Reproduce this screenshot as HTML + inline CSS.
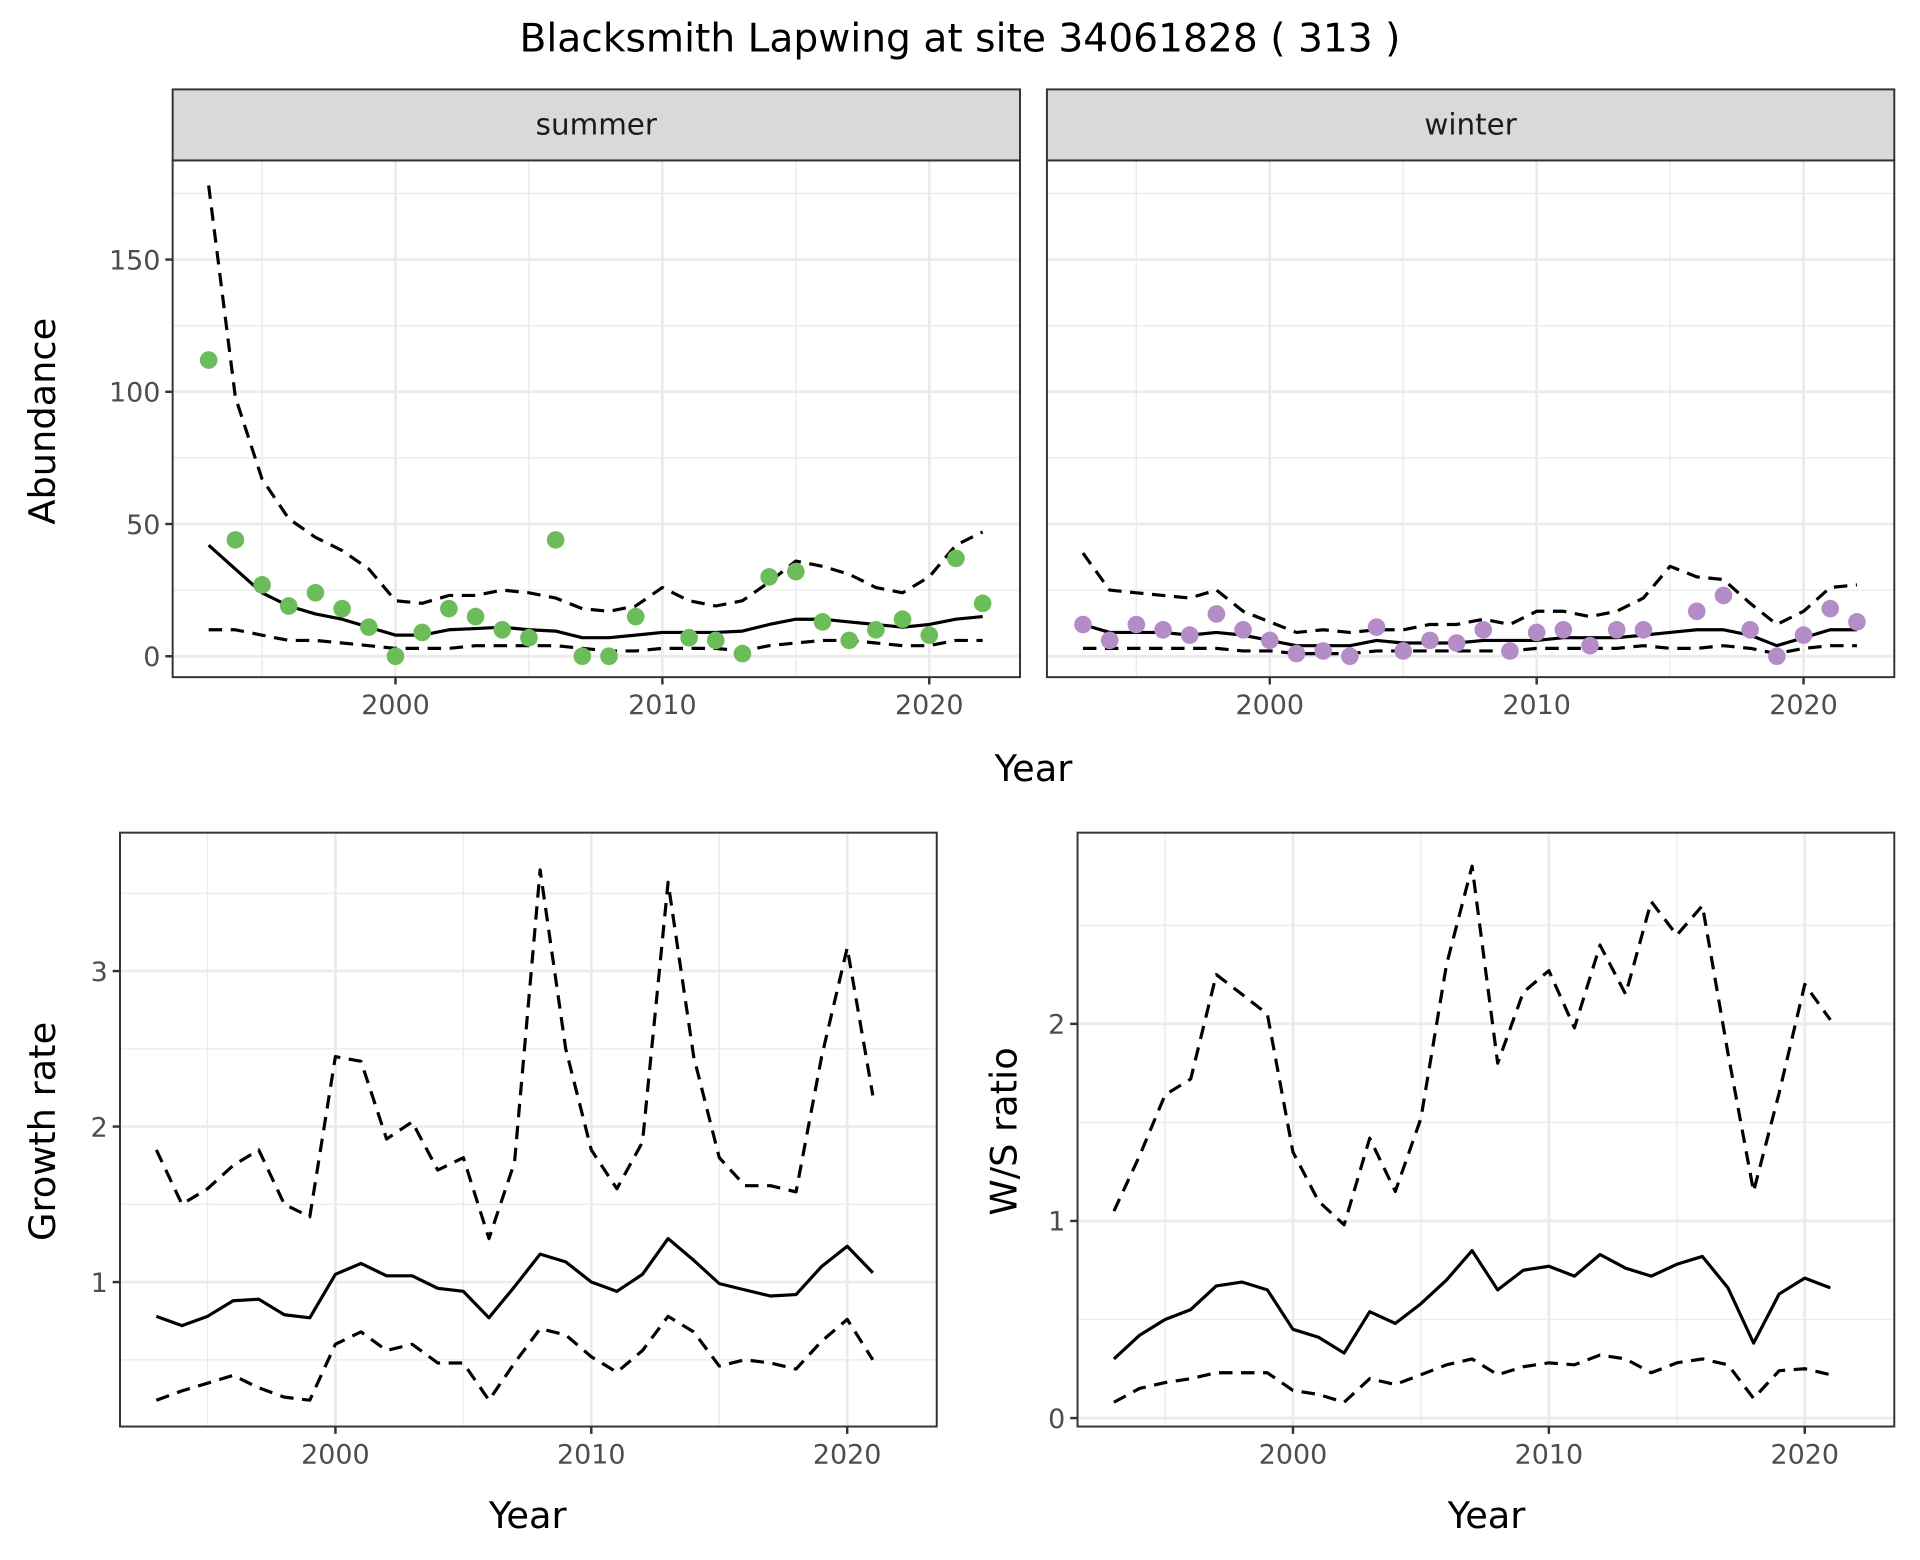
<!DOCTYPE html>
<html><head><meta charset="utf-8"><style>
html,body{margin:0;padding:0;background:#fff}
svg{display:block;font-family:"DejaVu Sans","Liberation Sans",sans-serif}
</style></head><body>
<svg id="c" width="1920" height="1560" viewBox="0 0 1568 1274" preserveAspectRatio="none" xmlns="http://www.w3.org/2000/svg">
<text x="784" y="42" text-anchor="middle" font-size="32" fill="#000">Blacksmith Lapwing at site 34061828 ( 313 )</text>
</svg>
<script>
const yearsAb = [1993,1994,1995,1996,1997,1998,1999,2000,2001,2002,2003,2004,2005,2006,2007,2008,2009,2010,2011,2012,2013,2014,2015,2016,2017,2018,2019,2020,2021,2022];
const summerObs = [112,44,27,19,24,18,11,0,9,18,15,10,7,44,0,0,15,null,7,6,1,30,32,13,6,10,14,8,37,20];
const summerFit = [42,33,24,19,16,14,11,8,8,10,10.5,11,10,9.5,7,7,8,9,9,9,9.5,12,14,14,13,12,11,12,14,15];
const summerUp = [178,98,67,52,45,40,33,21,20,23,23,25,24,22,18,17,19,26,21,19,21,28,36,34,31,26,24,30,42,47];
const summerLo = [10,10,8,6,6,5,4,3,3,3,4,4,4,4,3,2,2,3,3,3,2,4,5,6,6,5,4,4,6,6];
const winterObs = [12,6,12,10,8,16,10,6,1,2,0,11,2,6,5,10,2,9,10,4,10,10,null,17,23,10,0,8,18,13];
const winterFit = [12,9,9,9,8,9,8,6,4,4,4,6,5,5,5,6,6,6,7,7,7,8,9,10,10,8,4,7,10,10];
const winterUp = [39,25,24,23,22,25,17,13,9,10,9,10,10,12,12,14,12,17,17,15,17,22,34,30,29,20,12,17,26,27];
const winterLo = [3,3,3,3,3,3,2,2,1,1,1,2,2,2,2,2,2,3,3,3,3,4,3,3,4,3,1,3,4,4];
const yearsGr = [1993,1994,1995,1996,1997,1998,1999,2000,2001,2002,2003,2004,2005,2006,2007,2008,2009,2010,2011,2012,2013,2014,2015,2016,2017,2018,2019,2020,2021];
const growthFit = [0.78,0.72,0.78,0.88,0.89,0.79,0.77,1.05,1.12,1.04,1.04,0.96,0.94,0.77,0.97,1.18,1.13,1.0,0.94,1.05,1.28,1.14,0.99,0.95,0.91,0.92,1.1,1.23,1.06];
const growthUp = [1.85,1.5,1.6,1.75,1.85,1.5,1.42,2.45,2.42,1.92,2.03,1.72,1.8,1.28,1.77,3.65,2.5,1.85,1.6,1.9,3.57,2.45,1.8,1.62,1.62,1.58,2.45,3.15,2.2];
const growthLo = [0.24,0.3,0.35,0.4,0.32,0.26,0.24,0.6,0.68,0.56,0.6,0.48,0.48,0.24,0.48,0.7,0.66,0.52,0.42,0.56,0.78,0.68,0.46,0.5,0.48,0.44,0.62,0.76,0.5];
const ratioFit = [0.3,0.42,0.5,0.55,0.67,0.69,0.65,0.45,0.41,0.33,0.54,0.48,0.58,0.7,0.85,0.65,0.75,0.77,0.72,0.83,0.76,0.72,0.78,0.82,0.66,0.38,0.63,0.71,0.66];
const ratioUp = [1.05,1.33,1.64,1.72,2.25,2.15,2.05,1.35,1.1,0.98,1.42,1.15,1.52,2.3,2.8,1.8,2.16,2.27,1.98,2.4,2.15,2.62,2.45,2.6,1.85,1.15,1.65,2.2,2.02];
const ratioLo = [0.08,0.15,0.18,0.2,0.23,0.23,0.23,0.14,0.12,0.08,0.2,0.17,0.22,0.27,0.3,0.22,0.26,0.28,0.27,0.32,0.3,0.23,0.28,0.3,0.27,0.1,0.24,0.25,0.22];
const xTicks = [2000,2010,2020];
const xMinor = [1995,2005,2015];
const abTicks = [0,50,100,150];
const abMinor = [25,75,125,175];
const grTicks = [1,2,3];
const grMinor = [0.5,1.5,2.5,3.5];
const raTicks = [0,1,2];
const raMinor = [0.5,1.5,2.5];

const NS="http://www.w3.org/2000/svg";
const svg=document.getElementById('c');
function mk(tag,attrs,parent){const e=document.createElementNS(NS,tag);for(const k in attrs)e.setAttribute(k,attrs[k]);(parent||svg).appendChild(e);return e;}

function panel(o){
  const g=mk('g',{});
  
  
  const X=v=>o.x0+(v-o.xmin)/(o.xmax-o.xmin)*(o.x1-o.x0);
  const Y=v=>o.y1-(v-o.ymin)/(o.ymax-o.ymin)*(o.y1-o.y0);
  mk('rect',{x:o.x0,y:o.y0,width:o.x1-o.x0,height:o.y1-o.y0,fill:'#fff'},g);
  o.yMinor.forEach(v=>{if(v>o.ymin&&v<o.ymax){const l=mk('line',{x1:o.x0,x2:o.x1,y1:Y(v),y2:Y(v),stroke:'#ebebeb','stroke-width':1.1},g);}});
  xMinor.forEach(v=>{const l=mk('line',{x1:X(v),x2:X(v),y1:o.y0,y2:o.y1,stroke:'#ebebeb','stroke-width':1.1},g);});
  o.yTicks.forEach(v=>{const l=mk('line',{x1:o.x0,x2:o.x1,y1:Y(v),y2:Y(v),stroke:'#ebebeb','stroke-width':2.2},g);});
  xTicks.forEach(v=>{const l=mk('line',{x1:X(v),x2:X(v),y1:o.y0,y2:o.y1,stroke:'#ebebeb','stroke-width':2.2},g);});
  const line=(arr,dash,nm)=>{
    let d='';arr.forEach((v,i)=>{if(v!==null)d+=(d?'L':'M')+X(o.years[i]).toFixed(1)+','+Y(v).toFixed(1);});
    const p=mk('path',{d:d,fill:'none',stroke:'#000','stroke-width':2.6,'stroke-dasharray':dash?'11,7':'none','stroke-linejoin':'round'},g);
    
    
  };
  line(o.up,true,'upper-ci-line');line(o.lo,true,'lower-ci-line');line(o.fit,false,'fitted-line');
  if(o.obs)o.obs.forEach((v,i)=>{if(v===null)return;const c=mk('circle',{cx:X(o.years[i]),cy:Y(v),r:7.2,fill:o.col},g);
    
    });
  mk('rect',{x:o.x0,y:o.y0,width:o.x1-o.x0,height:o.y1-o.y0,fill:'none',stroke:'#333','stroke-width':1.6},g);
  if(o.yLabels){o.yTicks.forEach(v=>{mk('line',{x1:o.x0-6,x2:o.x0,y1:Y(v),y2:Y(v),stroke:'#333','stroke-width':2},g);
    const t=mk('text',{x:o.x0-10,y:Y(v)+8,'text-anchor':'end','font-size':22,fill:'#4d4d4d'},g);t.textContent=v;
    
    });}
  xTicks.forEach(v=>{mk('line',{x1:X(v),x2:X(v),y1:o.y1,y2:o.y1+6,stroke:'#333','stroke-width':2},g);
    const t=mk('text',{x:X(v),y:o.y1+30,'text-anchor':'middle','font-size':22,fill:'#4d4d4d'},g);t.textContent=v;
    
    });
  if(o.strip){const r=mk('rect',{x:o.x0,y:o.y0-58,width:o.x1-o.x0,height:58,fill:'#d9d9d9',stroke:'#333','stroke-width':1.6},g);
    
    
    const t=mk('text',{x:(o.x0+o.x1)/2,y:o.y0-21,'text-anchor':'middle','font-size':24,fill:'#1a1a1a'},g);t.textContent=o.strip;
    
    }
}
panel({name:'summer-panel',x0:141,x1:833,y0:131,y1:553,xmin:1991.65,xmax:2023.4,ymin:-7.9,ymax:187.5,years:yearsAb,obs:summerObs,fit:summerFit,up:summerUp,lo:summerLo,col:'#6cbd5a',yTicks:abTicks,yMinor:abMinor,yLabels:true,strip:'summer'});
panel({name:'winter-panel',x0:855,x1:1547,y0:131,y1:553,xmin:1991.65,xmax:2023.4,ymin:-7.9,ymax:187.5,years:yearsAb,obs:winterObs,fit:winterFit,up:winterUp,lo:winterLo,col:'#b48cc8',yTicks:abTicks,yMinor:abMinor,yLabels:false,strip:'winter'});
panel({name:'growth-rate-panel',x0:98,x1:765,y0:680,y1:1165,xmin:1991.58,xmax:2023.5,ymin:0.071,ymax:3.89,years:yearsGr,fit:growthFit,up:growthUp,lo:growthLo,yTicks:grTicks,yMinor:grMinor,yLabels:true});
panel({name:'ws-ratio-panel',x0:880,x1:1547,y0:680,y1:1165,xmin:1991.58,xmax:2023.5,ymin:-0.043,ymax:2.97,years:yearsGr,fit:ratioFit,up:ratioUp,lo:ratioLo,yTicks:raTicks,yMinor:raMinor,yLabels:true});
function lab(txt,x,y,rot,nm){const t=mk('text',{x:x,y:y,'text-anchor':'middle','font-size':30,fill:'#000',transform:rot?`rotate(-90 ${x} ${y})`:''});t.textContent=txt;
  
  }
lab('Year',844,638,false,'x-axis-title-top');
lab('Abundance',45,344,true,'y-axis-title-abundance');
lab('Year',431,1248,false,'x-axis-title-growth');
lab('Growth rate',45,924,true,'y-axis-title-growth');
lab('Year',1214,1248,false,'x-axis-title-ratio');
lab('W/S ratio',830,924,true,'y-axis-title-ratio');
</script>
</body></html>
